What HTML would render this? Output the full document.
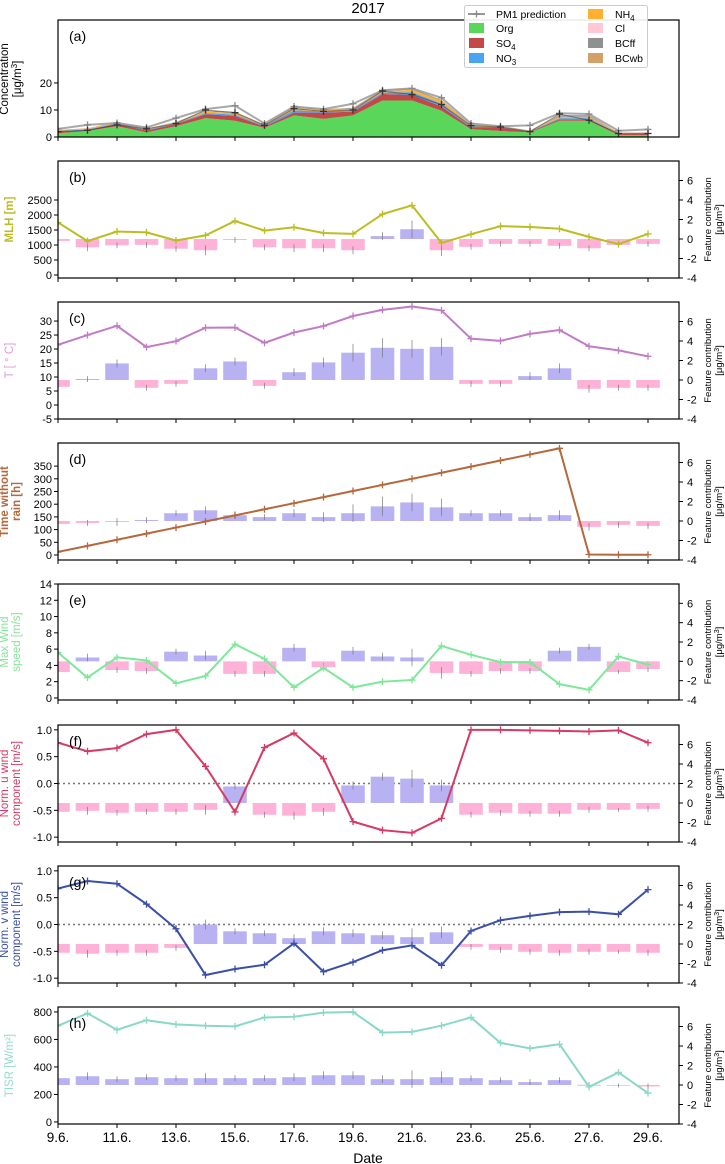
<!DOCTYPE html>
<html><head><meta charset="utf-8"><style>
body{margin:0;background:#fff;}
svg{display:block;font-family:"Liberation Sans","DejaVu Sans",sans-serif;}
</style></head><body>
<svg id="c" width="725" height="1164" viewBox="0 0 725 1164" xmlns="http://www.w3.org/2000/svg"></svg>
<script>
const days=[9,10,11,12,13,14,15,16,17,18,19,20,21,22,23,24,25,26,27,28,29];
const xTickDays=[9,11,13,15,17,19,21,23,25,27,29];
const xTickLabels=["9.6.","11.6.","13.6.","15.6.","17.6.","19.6.","21.6.","23.6.","25.6.","27.6.","29.6."];
// panel (a)
const org=[1.4,2.2,4,1.7,4,7,6,3.4,8,6.7,8,13.5,13.5,9.7,2.9,2.2,1.7,6,6,0.7,0.7];
const so4=[0.6,0.4,0.8,0.7,0.8,1.4,1.8,0.5,1.0,2.3,1.4,2.4,2.1,1.6,0.6,1.3,0.3,0.5,0.5,0.4,0.4];
const no3=[0.2,0.2,0.3,0.3,0.3,0.5,0.5,0.3,0.9,0.5,0.5,0.5,1.0,1.0,0.4,0.2,0.1,0.5,0.5,0.15,0.15];
const nh4=[0.2,0.2,0.3,0.2,0.3,0.5,0.6,0.2,0.9,0.4,0.5,0.5,0.9,1.0,0.5,0.2,0.1,0.4,0.4,0.15,0.15];
const cl=[0.02,0.02,0.02,0.02,0.02,0.03,0.03,0.02,0.03,0.03,0.03,0.04,0.04,0.03,0.02,0.02,0.02,0.03,0.03,0.02,0.02];
const bcff=[0.1,0.1,0.1,0.1,0.1,0.2,0.2,0.1,0.2,0.2,0.2,0.3,0.3,0.2,0.1,0.1,0.1,0.3,0.3,0.1,0.1];
const bcwb=[0.1,0.1,0.1,0.1,0.1,0.2,0.2,0.1,0.2,0.2,0.2,0.3,0.3,0.2,0.1,0.1,0.1,0.4,0.4,0.1,0.1];
const pm1Pred=[3,4.5,5.2,3.5,7,10.3,11.6,5,11.3,10.3,12.3,17.3,18,14.5,5,4,4.3,8.8,8.5,2.3,2.8];
const pm1Obs=[2,2.5,4.5,3,5,10,9,4.3,10.5,9.5,10,17,15.7,12,4.2,3.7,2,8.5,6.2,1.3,1.3];
// feature panels
const mlh=[1750,1130,1450,1420,1150,1320,1800,1480,1590,1400,1370,2030,2320,1070,1360,1630,1600,1540,1270,1030,1370];
const mlhContrib=[-0.2,-0.85,-0.65,-0.6,-1.0,-1.15,-0.1,-0.85,-0.95,-0.95,-1.15,0.3,1.0,-1.15,-0.8,-0.5,-0.5,-0.7,-0.95,-0.6,-0.5];
const temp=[21.5,25,28.3,20.7,22.8,27.6,27.7,22.2,25.9,28.2,31.8,34,35.2,33.8,23.7,22.9,25.4,26.8,21,19.5,17.4];
const tempContrib=[-0.7,0.1,1.7,-0.8,-0.4,1.2,1.9,-0.6,0.8,1.8,2.8,3.3,3.2,3.4,-0.4,-0.4,0.4,1.2,-0.9,-0.8,-0.8];
const rainless=[12,36,60,84,108,132,156,180,204,228,252,276,300,324,348,372,396,420,2,1,1];
const rainContrib=[-0.3,-0.2,-0.1,0.1,0.8,1.1,0.6,0.4,0.8,0.4,0.8,1.5,1.9,1.4,0.8,0.8,0.4,0.6,-0.6,-0.4,-0.5];
const wind=[5.6,2.5,5.0,4.6,1.8,2.7,6.6,4.8,1.3,3.7,1.3,2.0,2.2,6.4,5.3,4.4,4.4,1.7,1.0,5.1,4.1];
const windContrib=[-1.1,0.4,-0.9,-1.0,1.0,0.6,-1.3,-1.3,1.4,-0.6,1.1,0.5,0.4,-1.2,-1.3,-1.0,-1.0,1.1,1.5,-1.1,-0.8];
const uwind=[0.76,0.6,0.66,0.92,1.0,0.32,-0.53,0.67,0.94,0.46,-0.71,-0.87,-0.92,-0.65,1.0,1.0,0.99,0.98,0.97,0.99,0.76];
const uContrib=[-0.9,-0.8,-1.0,-0.9,-0.9,-0.7,1.7,-1.2,-1.3,-0.9,1.8,2.7,2.5,1.8,-1.2,-1.0,-1.1,-1.1,-0.7,-0.7,-0.6];
const vwind=[0.67,0.81,0.76,0.38,-0.08,-0.94,-0.83,-0.75,-0.35,-0.88,-0.7,-0.48,-0.39,-0.76,-0.12,0.08,0.16,0.23,0.24,0.19,0.65];
const vContrib=[-0.9,-1.0,-0.9,-0.9,-0.4,2.0,1.3,1.1,0.6,1.3,1.1,0.9,0.7,1.2,-0.3,-0.6,-0.8,-0.9,-0.8,-0.8,-0.9];
const tisr=[700,790,670,740,710,700,695,760,765,795,800,650,655,700,760,575,535,565,255,360,210];
const tisrContrib=[0.7,0.9,0.6,0.8,0.7,0.7,0.7,0.7,0.8,1.0,1.0,0.6,0.6,0.8,0.7,0.5,0.3,0.5,0.02,-0.05,-0.15];
const errSmall=[0.3,0.4,0.3,0.3,0.3,0.5,0.3,0.3,0.4,0.4,0.4,0.4,0.9,0.6,0.3,0.3,0.3,0.3,0.3,0.2,0.3];
const errLarge=[0.3,0.3,0.4,0.3,0.3,0.4,0.4,0.3,0.4,0.5,0.9,1.0,0.9,0.9,0.3,0.3,0.4,0.5,0.4,0.3,0.3];

const svg=document.getElementById('c');
const NS='http://www.w3.org/2000/svg';
function mk(tag,attrs,parent){const e=document.createElementNS(NS,tag);for(const k in attrs)e.setAttribute(k,attrs[k]);(parent||svg).appendChild(e);return e;}
const X0=58,X1=679;
function xs(d){return X0+(d-9)*29.5;}

const panels=[
 {id:'a',top:20,bot:137,lmin:0,lmax:43.3,ticks:[0,10,20],tl:['0','10','20']},
 {id:'b',top:161,bot:278,lmin:-100,lmax:3800,ticks:[0,500,1000,1500,2000,2500],tl:['0','500','1000','1500','2000','2500'],
  vals:mlh,contrib:mlhContrib,err:errSmall,color:'#bcbd22',lab:['MLH [m]'],labColor:'#bcbd22',bold:true},
 {id:'c',top:302,bot:419,lmin:-5,lmax:36.8,ticks:[-5,0,5,10,15,20,25,30],tl:['-5','0','5','10','15','20','25','30'],
  vals:temp,contrib:tempContrib,err:errLarge,color:'#c07cc4',lab:['T [ ° C]'],labColor:'#d99ad9'},
 {id:'d',top:443,bot:560,lmin:-19.7,lmax:441,ticks:[0,50,100,150,200,250,300,350],tl:['0','50','100','150','200','250','300','350'],
  vals:rainless,contrib:rainContrib,err:errLarge,color:'#b5683c',lab:['Time without','rain [h]'],labColor:'#b5683c',bold:true},
 {id:'e',top:584,bot:700,lmin:-0.25,lmax:14,ticks:[0,2,4,6,8,10,12,14],tl:['0','2','4','6','8','10','12','14'],
  vals:wind,contrib:windContrib,err:errSmall,color:'#7ee89a',lab:['Max Wind','speed [m/s]'],labColor:'#86e39a'},
 {id:'f',top:725,bot:842,lmin:-1.09,lmax:1.09,ticks:[-1,-0.5,0,0.5,1],tl:['-1.0','-0.5','0.0','0.5','1.0'],
  vals:uwind,contrib:uContrib,err:errSmall,color:'#d63a62',lab:['Norm. u wind','component [m/s]'],labColor:'#d63a62',zero:true},
 {id:'g',top:866,bot:983,lmin:-1.09,lmax:1.09,ticks:[-1,-0.5,0,0.5,1],tl:['-1.0','-0.5','0.0','0.5','1.0'],
  vals:vwind,contrib:vContrib,err:errSmall,color:'#3a4fa8',lab:['Norm. v wind','component [m/s]'],labColor:'#3a4fa8',zero:true},
 {id:'h',top:1007,bot:1124,lmin:-15,lmax:836,ticks:[0,200,400,600,800],tl:['0','200','400','600','800'],
  vals:tisr,contrib:tisrContrib,err:errSmall,color:'#8ad8c6',lab:['TISR [W/m²]'],labColor:'#92dccb'}
];
const ticksR=[-4,-2,0,2,4,6];
function plus(g,x,y,c){mk('path',{d:`M${x-3.5} ${y}H${x+3.5}M${x} ${y-3.5}V${y+3.5}`,stroke:c,'stroke-width':1.3,fill:'none'},g);}

panels.forEach((p,pi)=>{
  const ys=v=>p.bot-(v-p.lmin)/(p.lmax-p.lmin)*(p.bot-p.top);
  const yr=v=>p.bot-(v+4)/12*(p.bot-p.top);
  const g=mk('g',{});
  
  
  const clip=mk('clipPath',{id:'clip'+p.id},g);
  mk('rect',{x:X0,y:p.top,width:X1-X0,height:p.bot-p.top},clip);
  const cg=mk('g',{'clip-path':`url(#clip${p.id})`},g);
  if(p.id==='a'){
    const comps=[[org,'#5ad65a','org'],[so4,'#c44848','so4'],[no3,'#4aa4f4','no3'],[nh4,'#ffb030','nh4'],[cl,'#ffc8d4','cl'],[bcff,'#909090','bcff'],[bcwb,'#d4a06a','bcwb']];
    let base=days.map(()=>0);
    comps.forEach(([arr,col,nm])=>{
      const top=base.map((b,i)=>b+arr[i]);
      let d='M'+days.map((dd,i)=>xs(dd)+' '+ys(top[i])).join('L');
      for(let i=days.length-1;i>=0;i--)d+='L'+xs(days[i])+' '+ys(base[i]);
      const a=mk('path',{d:d+'Z',fill:col,stroke:'none'},cg);
      
      
      base=top;
    });
    const lp=mk('polyline',{points:days.map((dd,i)=>xs(dd)+','+ys(pm1Pred[i])).join(' '),fill:'none',stroke:'#999','stroke-width':2,opacity:0.85},cg);
    
    
    days.forEach((dd,i)=>plus(cg,xs(dd),ys(pm1Pred[i]),'#888'));
    const lo=mk('polyline',{points:days.map((dd,i)=>xs(dd)+','+ys(pm1Obs[i])).join(' '),fill:'none',stroke:'#333','stroke-width':1.1,opacity:0.5},cg);
    
    
    days.forEach((dd,i)=>plus(cg,xs(dd),ys(pm1Obs[i]),'#333'));
  } else {
    if(p.zero){const z=mk('line',{x1:X0,x2:X1,y1:ys(0),y2:ys(0),stroke:'#777','stroke-width':1.5,'stroke-dasharray':'2,3'},cg);
      }
    days.forEach((dd,i)=>{
      const v=p.contrib[i];const y0=yr(0),y1=yr(v);
      const b=mk('rect',{x:xs(dd)-11.8,y:Math.min(y0,y1),width:23.6,height:Math.max(Math.abs(y1-y0),0.8),fill:v>=0?'#b9b2f2':'#ffb2d8'},cg);
      
      
      const e=p.err[i];
      mk('line',{x1:xs(dd),x2:xs(dd),y1:yr(v-e),y2:yr(v+e),stroke:'#777','stroke-width':0.7},cg);
    });
    const l=mk('polyline',{points:days.map((dd,i)=>xs(dd)+','+ys(p.vals[i])).join(' '),fill:'none',stroke:p.color,'stroke-width':2},cg);
    
    
    days.forEach((dd,i)=>plus(cg,xs(dd),ys(p.vals[i]),p.color));
    ticksR.forEach(t=>{const y=yr(t);mk('line',{x1:X1,x2:X1+4,y1:y,y2:y,stroke:'#000'},g);
      const tx=mk('text',{x:X1+8,y:y+4,'font-size':11},g);tx.textContent=t;});
    const rl=mk('text',{transform:`translate(711,${(p.top+p.bot)/2}) rotate(-90)`,'text-anchor':'middle','font-size':9.5},g);
    rl.textContent='Feature contribution';
    
    const rl2=mk('text',{transform:`translate(722,${(p.top+p.bot)/2}) rotate(-90)`,'text-anchor':'middle','font-size':9.5},g);
    rl2.innerHTML='[μg/m<tspan dy="-3" font-size="7">3</tspan><tspan dy="3">]</tspan>';
    const n=p.lab.length;
    p.lab.forEach((s,k)=>{const xx=n===1?13:8+k*12;
      const t=mk('text',{transform:`translate(${xx},${(p.top+p.bot)/2}) rotate(-90)`,'text-anchor':'middle','font-size':11.5,fill:p.labColor,'font-weight':p.bold?'bold':'normal'},g);
      t.textContent=s;});
  }
  mk('rect',{x:X0,y:p.top,width:X1-X0,height:p.bot-p.top,fill:'none',stroke:'#000','stroke-width':1.2},g);
  p.ticks.forEach((t,k)=>{const y=ys(t);mk('line',{x1:X0-4,x2:X0,y1:y,y2:y,stroke:'#000'},g);
    const tx=mk('text',{x:X0-6,y:y+4,'font-size':11,'text-anchor':'end'},g);tx.textContent=p.tl[k];});
  xTickDays.forEach((d,k)=>{mk('line',{x1:xs(d),x2:xs(d),y1:p.bot,y2:p.bot+4,stroke:'#000'},g);
    if(p.id==='h'){const tx=mk('text',{x:xs(d),y:p.bot+18,'font-size':13.5,'text-anchor':'middle'},g);tx.textContent=xTickLabels[k];}});
  const pl=mk('text',{x:69,y:p.top+21,'font-size':14},g);pl.textContent='('+p.id+')';
  
});
let t=mk('text',{transform:'translate(8,79) rotate(-90)','text-anchor':'middle','font-size':11.5});t.textContent='Concentration';

t=mk('text',{transform:'translate(21,79) rotate(-90)','text-anchor':'middle','font-size':11.5});t.innerHTML='[μg/m<tspan dy="-4" font-size="8">3</tspan><tspan dy="4">]</tspan>';
t=mk('text',{x:368,y:13,'font-size':15,'text-anchor':'middle'});t.textContent='2017';

t=mk('text',{x:368,y:1163,'font-size':14,'text-anchor':'middle'});t.textContent='Date';

const lg=mk('g',{});


mk('rect',{x:464.5,y:5.5,width:183,height:62,fill:'#fff','fill-opacity':0.9,stroke:'#ccc',rx:2},lg);
const legItems=[['PM1 prediction',null,469,14],['Org','#5ad65a',469,28],['SO','#c44848',469,43,'4'],['NO','#4aa4f4',469,58,'3'],
 ['NH','#ffb030',588,14,'4'],['Cl','#ffc8d4',588,28],['BCff','#909090',588,43],['BCwb','#d4a06a',588,58]];
legItems.forEach(([s,c,x,y,sub])=>{
  const e=mk('g',{},lg);
  
  
  if(c)mk('rect',{x:x,y:y-5,width:15,height:10,fill:c},e);
  else{mk('line',{x1:x-1,x2:x+16,y1:y,y2:y,stroke:'#999','stroke-width':2},e);plus(e,x+7.5,y,'#888');}
  const tx=mk('text',{x:x+27,y:y+4,'font-size':10.5},e);
  tx.innerHTML=sub?`${s}<tspan dy="3" font-size="8">${sub}</tspan>`:s;
});
</script>
</body></html>
